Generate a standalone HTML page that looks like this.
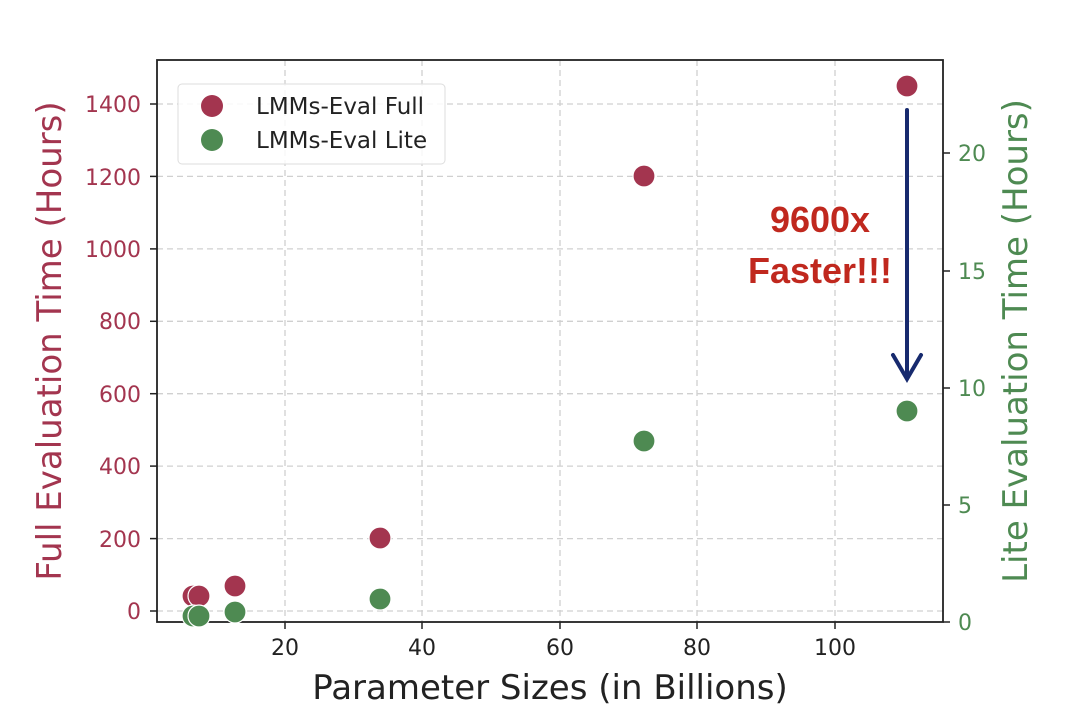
<!DOCTYPE html>
<html><head><meta charset="utf-8"><style>body{margin:0;background:#fff}svg{display:block}</style></head>
<body>
<svg width="1080" height="728" xmlns="http://www.w3.org/2000/svg" font-family="DejaVu Sans, Liberation Sans, sans-serif">
<rect width="1080" height="728" fill="#fff"/>
<g stroke="#d0d0d0" stroke-width="1.3" stroke-dasharray="6,4">
<line x1="285" y1="60" x2="285" y2="622"/><line x1="422" y1="60" x2="422" y2="622"/><line x1="560" y1="60" x2="560" y2="622"/><line x1="697" y1="60" x2="697" y2="622"/><line x1="835" y1="60" x2="835" y2="622"/>
<line x1="157" y1="611" x2="943" y2="611"/><line x1="157" y1="538.6" x2="943" y2="538.6"/><line x1="157" y1="466.1" x2="943" y2="466.1"/><line x1="157" y1="393.7" x2="943" y2="393.7"/><line x1="157" y1="321.3" x2="943" y2="321.3"/><line x1="157" y1="248.9" x2="943" y2="248.9"/><line x1="157" y1="176.4" x2="943" y2="176.4"/><line x1="157" y1="104" x2="943" y2="104"/>
</g>
<rect x="157" y="60" width="786" height="562" fill="none" stroke="#222" stroke-width="1.8"/>
<g stroke="#222" stroke-width="1.5">
<line x1="285" y1="622" x2="285" y2="629"/><line x1="422" y1="622" x2="422" y2="629"/><line x1="560" y1="622" x2="560" y2="629"/><line x1="697" y1="622" x2="697" y2="629"/><line x1="835" y1="622" x2="835" y2="629"/>
<line x1="150" y1="611" x2="157" y2="611"/><line x1="150" y1="538.6" x2="157" y2="538.6"/><line x1="150" y1="466.1" x2="157" y2="466.1"/><line x1="150" y1="393.7" x2="157" y2="393.7"/><line x1="150" y1="321.3" x2="157" y2="321.3"/><line x1="150" y1="248.9" x2="157" y2="248.9"/><line x1="150" y1="176.4" x2="157" y2="176.4"/><line x1="150" y1="104" x2="157" y2="104"/>
<line x1="943" y1="622" x2="950" y2="622"/><line x1="943" y1="505" x2="950" y2="505"/><line x1="943" y1="388" x2="950" y2="388"/><line x1="943" y1="271" x2="950" y2="271"/><line x1="943" y1="153" x2="950" y2="153"/>
</g>
<g font-size="22" fill="#222" text-anchor="middle">
<text x="285" y="655">20</text><text x="422" y="655">40</text><text x="560" y="655">60</text><text x="697" y="655">80</text><text x="835" y="655">100</text>
</g>
<g font-size="22" fill="#a3354f" text-anchor="end">
<text x="141" y="619">0</text><text x="141" y="547">200</text><text x="141" y="474">400</text><text x="141" y="402">600</text><text x="141" y="329">800</text><text x="141" y="257">1000</text><text x="141" y="185">1200</text><text x="141" y="112">1400</text>
</g>
<g font-size="22" fill="#4e8a52">
<text x="958" y="630">0</text><text x="958" y="513">5</text><text x="958" y="396">10</text><text x="958" y="279">15</text><text x="958" y="161">20</text>
</g>
<text x="550" y="699" font-size="34" fill="#222" text-anchor="middle">Parameter Sizes (in Billions)</text>
<text transform="translate(61,341) rotate(-90)" font-size="34" fill="#a3354f" text-anchor="middle">Full Evaluation Time (Hours)</text>
<text transform="translate(1027,341) rotate(-90)" font-size="34" fill="#4e8a52" text-anchor="middle">Lite Evaluation Time (Hours)</text>
<rect x="178" y="84" width="267" height="80" rx="4" fill="#fff" fill-opacity="0.85" stroke="#ddd"/>
<circle cx="212" cy="106" r="11" fill="#a3354f"/><circle cx="212" cy="140" r="11" fill="#4e8a52"/>
<text x="256" y="114" font-size="23" fill="#222">LMMs-Eval Full</text>
<text x="256" y="148" font-size="23" fill="#222">LMMs-Eval Lite</text>
<g stroke="#fff" stroke-width="1.2">
<circle cx="193" cy="596" r="11" fill="#a3354f"/><circle cx="199" cy="596" r="11" fill="#a3354f"/><circle cx="235" cy="586" r="11" fill="#a3354f"/><circle cx="380" cy="538" r="11" fill="#a3354f"/><circle cx="644" cy="176" r="11" fill="#a3354f"/><circle cx="907" cy="86" r="11" fill="#a3354f"/>
<circle cx="193" cy="616" r="11" fill="#4e8a52"/><circle cx="199" cy="616" r="11" fill="#4e8a52"/><circle cx="235" cy="612" r="11" fill="#4e8a52"/><circle cx="380" cy="599" r="11" fill="#4e8a52"/><circle cx="644" cy="441" r="11" fill="#4e8a52"/><circle cx="907" cy="411" r="11" fill="#4e8a52"/>
</g>
<g stroke="#172a6e" stroke-width="4" fill="none" stroke-linecap="round">
<line x1="907" y1="110" x2="907" y2="378"/><polyline points="893,355 907,379 921,355"/>
</g>
<g font-family="Liberation Sans, sans-serif" font-size="36" font-weight="bold" fill="#c0281e" text-anchor="middle">
<text x="820" y="232">9600x</text><text x="820" y="283">Faster!!!</text>
</g>
</svg>
</body></html>
